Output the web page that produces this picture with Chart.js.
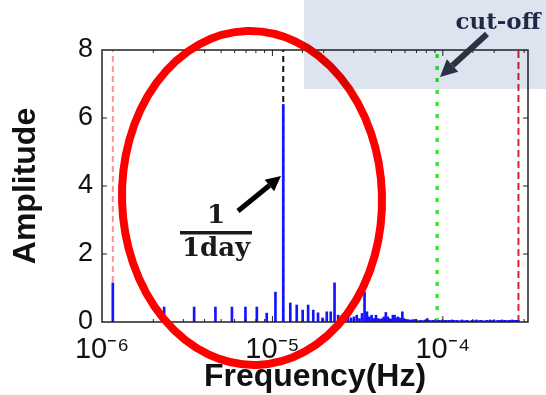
<!DOCTYPE html>
<html>
<head>
<meta charset="utf-8">
<script src="https://cdn.jsdelivr.net/npm/chart.js@4.4.0/dist/chart.umd.min.js"></script>
<style>
    html, body { margin: 0; padding: 0; background: #fff; }
</style>
</head>
<body>
<canvas id="spectrumChart" width="546" height="395"></canvas>
<script>
// Amplitude spectrum of a 10-day record, sampled every 30 minutes.
// Spikes sit on harmonics k of the base frequency 1/(10 days).
const recordSeconds = 10 * 86400;

const lowHarmonics = [1, 2, 3, 4, 5, 6, 7, 8, 9, 10, 11, 12, 13, 14, 15,
    16, 17, 18, 19, 20, 21, 22, 23, 24, 25, 26, 27, 28, 29, 30];
const lowAmplitudes = [1.15, 0.44, 0.44, 0.44, 0.44, 0.44, 0.44, 0.26, 0.88, 6.4,
    0.56, 0.5, 0.35, 0.5, 0.35, 0.27, 0.12, 0.3, 0.3, 1.15,
    0.2, 0.15, 0.1, 0.2, 0.12, 0.15, 0.2, 0.1, 0.25, 0.88];

const midHarmonics = [31, 32, 33, 34, 35, 36, 37, 38, 39, 40, 41, 42, 43, 44, 45,
    46, 47, 48, 49, 50, 51, 52, 53, 54, 55, 56, 57, 58, 59, 60];
const midAmplitudes = [0.3, 0.15, 0.2, 0.1, 0.2, 0.1, 0.08, 0.1, 0.15, 0.28,
    0.15, 0.1, 0.08, 0.2, 0.2, 0.1, 0.15, 0.12, 0.1, 0.3,
    0.1, 0.08, 0.06, 0.07, 0.05, 0.06, 0.04, 0.07, 0.05, 0.08];

const highHarmonics = [62, 64, 66, 68, 70, 72, 74, 76, 78, 80, 82, 84, 86, 88, 90,
    92, 94, 96, 98, 100, 104, 108, 112, 116, 120, 124, 128, 132, 136, 140,
    144, 148, 152, 156, 160, 164, 168, 172, 176, 180, 184, 188, 192, 196, 200,
    204, 208, 212, 216, 220, 224, 228, 232, 236, 240];
const highAmplitudes = [0.04, 0.05, 0.04, 0.06, 0.1, 0.05, 0.04, 0.05, 0.03, 0.04,
    0.05, 0.04, 0.06, 0.04, 0.05, 0.04, 0.05, 0.04, 0.06, 0.05,
    0.05, 0.04, 0.06, 0.04, 0.05, 0.03, 0.05, 0.04, 0.06, 0.04,
    0.05, 0.04, 0.03, 0.05, 0.04, 0.06, 0.04, 0.05, 0.03, 0.04,
    0.05, 0.04, 0.06, 0.04, 0.05, 0.04, 0.03, 0.05, 0.04, 0.06,
    0.04, 0.05, 0.04, 0.05, 0.04];

// Vertical reference lines (Hz): record length, one day, cut-off, Nyquist
const markerFreqs = [1 / recordSeconds, 1 / 86400, 1 / (3 * 3600), 1 / 3600];
const markerColors = ['rgba(255, 110, 110, 0.75)', '#111111', '#33ee33', '#e02424'];
const markerWidths = [2, 2, 3.5, 2];
const markerDashes = [[6, 4], [6, 4], [4, 8], [7, 4]];

// Axes
const xMin = 1e-6;
const xMax = 3.16e-4;
const xTickLabels = { '-6': '10⁻⁶', '-5': '10⁻⁵', '-4': '10⁻⁴' };
const yMin = 0;
const yMax = 8;
const yStep = 2;

// Build the spike points from the harmonic lists
function spikePoints() {
    const ks = lowHarmonics.concat(midHarmonics, highHarmonics);
    const amps = lowAmplitudes.concat(midAmplitudes, highAmplitudes);
    return ks.map((k, i) => ({ x: k / recordSeconds, y: amps[i] }));
}

// Draw an arrow with a filled triangular head
function drawArrow(ctx, x1, y1, x2, y2, width, headLen, headWidth, color) {
    const ang = Math.atan2(y2 - y1, x2 - x1);
    const bx = x2 - headLen * Math.cos(ang);
    const by = y2 - headLen * Math.sin(ang);
    ctx.strokeStyle = color;
    ctx.fillStyle = color;
    ctx.lineWidth = width;
    ctx.lineCap = 'butt';
    ctx.beginPath();
    ctx.moveTo(x1, y1);
    ctx.lineTo(bx, by);
    ctx.stroke();
    ctx.beginPath();
    ctx.moveTo(x2, y2);
    ctx.lineTo(bx + headWidth / 2 * Math.sin(ang), by - headWidth / 2 * Math.cos(ang));
    ctx.lineTo(bx - headWidth / 2 * Math.sin(ang), by + headWidth / 2 * Math.cos(ang));
    ctx.closePath();
    ctx.fill();
}

// Frame, inner ticks and the hand-drawn annotations
const overlayPlugin = {
    id: 'overlay',
    afterDraw(chart) {
        const ctx = chart.ctx;
        const area = chart.chartArea;
        const xs = chart.scales.x;
        const ys = chart.scales.y;
        ctx.save();

        // Frame
        ctx.strokeStyle = '#222';
        ctx.lineWidth = 1.5;
        ctx.strokeRect(area.left, area.top, area.right - area.left, area.bottom - area.top);

        // Inner tick marks
        ctx.lineWidth = 1;
        ctx.beginPath();
        xs.ticks.forEach(t => {
            const px = xs.getPixelForValue(t.value);
            if (px <= area.left + 1 || px >= area.right - 1) return;
            const e = Math.log10(t.value);
            const len = Math.abs(e - Math.round(e)) < 1e-6 ? 6 : 3;
            ctx.moveTo(px, area.top);
            ctx.lineTo(px, area.top + len);
            ctx.moveTo(px, area.bottom);
            ctx.lineTo(px, area.bottom - len);
        });
        ys.ticks.forEach(t => {
            const py = ys.getPixelForValue(t.value);
            if (py <= area.top + 1 || py >= area.bottom - 1) return;
            ctx.moveTo(area.left, py);
            ctx.lineTo(area.left + 5, py);
            ctx.moveTo(area.right, py);
            ctx.lineTo(area.right - 5, py);
        });
        ctx.stroke();

        // Red ellipse around the low-frequency part
        ctx.beginPath();
        ctx.ellipse(252, 198, 130, 167, -0.03, 0, Math.PI * 2);
        ctx.strokeStyle = '#ff0000';
        ctx.lineWidth = 8;
        ctx.stroke();

        // Shaded box in the top right corner
        ctx.globalCompositeOperation = 'multiply';
        ctx.fillStyle = 'rgb(221, 228, 240)';
        ctx.fillRect(304, 0, 242, 89);
        ctx.globalCompositeOperation = 'source-over';

        // "cut-off" label and arrow
        ctx.fillStyle = '#1e2a45';
        ctx.font = 'bold 23px "DejaVu Serif"';
        ctx.textAlign = 'center';
        ctx.textBaseline = 'alphabetic';
        ctx.fillText('cut-off', 498, 29);
        drawArrow(ctx, 487, 34, 440, 77, 6, 17, 17, '#2b3342');

        // 1 / 1day fraction and arrow
        ctx.fillStyle = '#1a1a1a';
        ctx.font = 'bold 26px "DejaVu Serif"';
        ctx.fillText('1', 216, 223);
        ctx.fillRect(180, 231, 72, 3.5);
        ctx.fillText('1day', 216, 256);
        drawArrow(ctx, 238, 211, 281, 176, 5, 15, 15, '#000');

        ctx.restore();
    }
};

const markerSets = markerFreqs.map((f, i) => ({
    type: 'line',
    data: [{ x: f, y: yMin }, { x: f, y: yMax }],
    borderColor: markerColors[i],
    borderWidth: markerWidths[i],
    borderDash: markerDashes[i],
    pointRadius: 0,
    fill: false,
    order: 2
}));

new Chart(document.getElementById('spectrumChart'), {
    type: 'bar',
    data: {
        datasets: [
            {
                type: 'bar',
                data: spikePoints(),
                backgroundColor: '#1414ff',
                barThickness: 2,
                grouped: false,
                order: 1
            },
            ...markerSets
        ]
    },
    options: {
        responsive: false,
        animation: false,
        layout: { padding: { top: 50, right: 18, left: 0, bottom: 0 } },
        plugins: {
            legend: { display: false },
            tooltip: { enabled: false }
        },
        scales: {
            x: {
                type: 'logarithmic',
                min: xMin,
                max: xMax,
                offset: false,
                grid: { display: false, drawTicks: false },
                border: { display: false },
                ticks: {
                    autoSkip: false,
                    maxRotation: 0,
                    padding: 11,
                    color: '#111',
                    font: { family: 'Liberation Sans', size: 29 },
                    callback: function (value) {
                        const e = Math.log10(value);
                        if (Math.abs(e - Math.round(e)) < 1e-6) {
                            return xTickLabels[Math.round(e)] || '';
                        }
                        return '';
                    }
                },
                title: {
                    display: true,
                    text: 'Frequency(Hz)',
                    color: '#111',
                    font: { family: 'Liberation Sans', size: 32, weight: 'bold', lineHeight: 1 },
                    padding: { top: 0, bottom: 2 }
                },
                afterFit: function (scale) { scale.height = 73; }
            },
            y: {
                min: yMin,
                max: yMax,
                grid: { display: false, drawTicks: false },
                border: { display: false },
                ticks: {
                    stepSize: yStep,
                    padding: 9,
                    color: '#111',
                    font: { family: 'Liberation Sans', size: 27 }
                },
                title: {
                    display: true,
                    text: 'Amplitude',
                    color: '#111',
                    font: { family: 'Liberation Sans', size: 32, weight: 'bold', lineHeight: 1 },
                    padding: { top: 10, bottom: 0 }
                },
                afterFit: function (scale) { scale.width = 102; }
            }
        }
    },
    plugins: [overlayPlugin]
});
</script>
</body>
</html>
